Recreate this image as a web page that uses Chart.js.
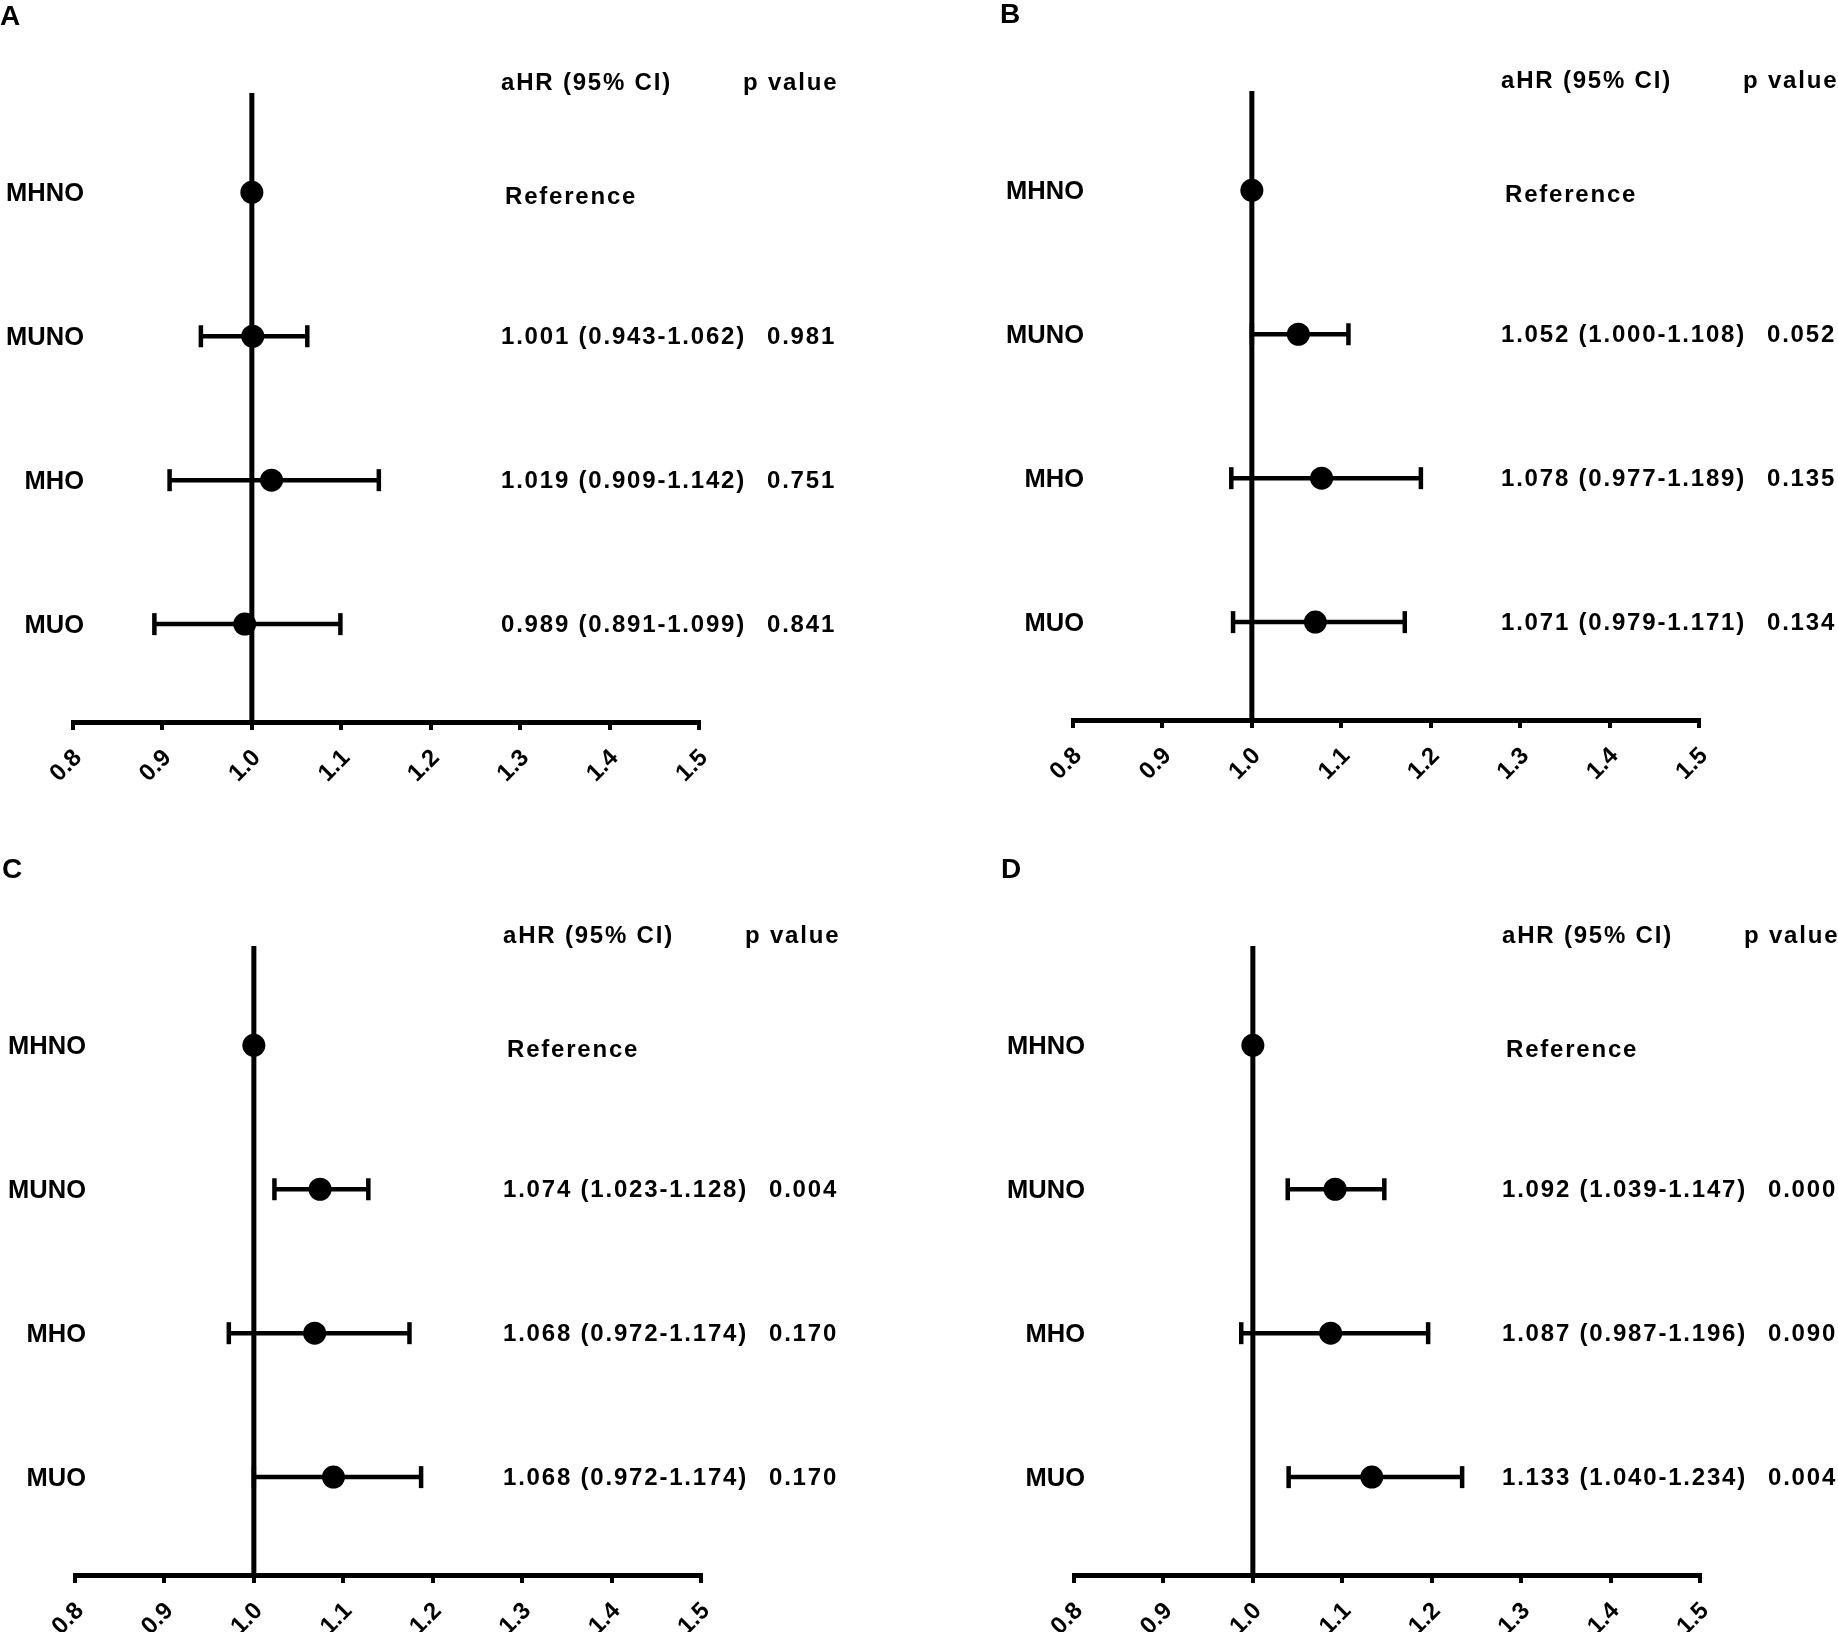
<!DOCTYPE html>
<html>
<head>
<meta charset="utf-8">
<script src="https://cdn.jsdelivr.net/npm/chart.js@4.4.0/dist/chart.umd.min.js"></script>
<style>
html, body { margin: 0; padding: 0; background: #fff; overflow: hidden; width: 1838px; height: 1632px; }
canvas { position: absolute; }
</style>
</head>
<body>
<canvas id="panelA" width="1000" height="853" style="left:0px;top:0px"></canvas>
<canvas id="panelB" width="1000" height="853" style="left:1000px;top:-2px"></canvas>
<canvas id="panelC" width="1000" height="853" style="left:2px;top:853px"></canvas>
<canvas id="panelD" width="1000" height="853" style="left:1001px;top:853px"></canvas>
<script>
const rowLabels = ['MHNO', 'MUNO', 'MHO', 'MUO'];
const xTicks = [0.8, 0.9, 1.0, 1.1, 1.2, 1.3, 1.4, 1.5];
const headers = ['aHR (95% CI)', 'p value'];

// panel A
const hrA = [1.000, 1.001, 1.022, 0.992];
const lowA = [null, 0.943, 0.908, 0.891];
const highA = [null, 1.062, 1.142, 1.099];
const estA = ['Reference', '1.001 (0.943-1.062)', '1.019 (0.909-1.142)', '0.989 (0.891-1.099)'];
const pA = ['', '0.981', '0.751', '0.841'];

// panel B
const hrB = [1.000, 1.052, 1.078, 1.071];
const lowB = [null, 1.000, 0.977, 0.979];
const highB = [null, 1.108, 1.189, 1.171];
const estB = ['Reference', '1.052 (1.000-1.108)', '1.078 (0.977-1.189)', '1.071 (0.979-1.171)'];
const pB = ['', '0.052', '0.135', '0.134'];

// panel C (last row is drawn where the picture puts it, not where its text says)
const hrC = [1.000, 1.074, 1.068, 1.089];
const lowC = [null, 1.023, 0.972, 1.000];
const highC = [null, 1.128, 1.174, 1.187];
const estC = ['Reference', '1.074 (1.023-1.128)', '1.068 (0.972-1.174)', '1.068 (0.972-1.174)'];
const pC = ['', '0.004', '0.170', '0.170'];

// panel D
const hrD = [1.000, 1.092, 1.087, 1.133];
const lowD = [null, 1.039, 0.987, 1.040];
const highD = [null, 1.147, 1.196, 1.234];
const estD = ['Reference', '1.092 (1.039-1.147)', '1.087 (0.987-1.196)', '1.133 (1.040-1.234)'];
const pD = ['', '0.000', '0.090', '0.004'];

const FONT = '"Liberation Sans", Arial, Helvetica, sans-serif';
Chart.defaults.font.family = FONT;
Chart.defaults.font.size = 24;
Chart.defaults.font.weight = 'bold';
Chart.defaults.color = '#000';

const forestText = {
    id: 'forestText',
    afterDraw(chart) {
        const o = chart.options.plugins.forestText;
        const ctx = chart.ctx;
        const y = chart.scales.y;
        ctx.save();
        ctx.fillStyle = '#000';
        ctx.textBaseline = 'alphabetic';

        ctx.font = 'bold 28px ' + FONT;
        ctx.textAlign = 'left';
        ctx.fillText(o.letter, 0, 25);

        ctx.letterSpacing = '1.8px';
        ctx.font = 'bold 24px ' + FONT;
        ctx.fillText(headers[0], 501, 90);
        ctx.fillText(headers[1], 743, 90);

        rowLabels.forEach((lab, i) => {
            const py = y.getPixelForValue(i + 1);
            ctx.letterSpacing = '0px';
            ctx.font = 'bold 25.5px ' + FONT;
            ctx.textAlign = 'right';
            ctx.fillText(lab, 84, py + 9);

            ctx.letterSpacing = '1.8px';
            ctx.font = 'bold 24px ' + FONT;
            ctx.textAlign = 'left';
            if (i === 0) {
                ctx.fillText(o.est[i], 505, py + 12);
            } else {
                ctx.fillText(o.est[i], 501, py + 8);
                ctx.fillText(o.p[i], 767, py + 8);
            }
        });
        ctx.restore();
    }
};

function makePanel(id, letter, hr, low, high, est, p) {
    const datasets = [];
    datasets.push({
        type: 'scatter',
        data: hr.map((v, i) => ({ x: v, y: i + 1 })),
        pointRadius: 11.5,
        pointBackgroundColor: '#000',
        pointBorderColor: '#000',
        pointBorderWidth: 0,
        order: 0
    });
    low.forEach((lo, i) => {
        if (lo === null) return;
        datasets.push({
            type: 'line',
            data: [{ x: lo, y: i + 1 }, { x: high[i], y: i + 1 }],
            borderColor: '#000',
            borderWidth: 4.5,
            pointStyle: 'line',
            pointRotation: 90,
            pointRadius: 11,
            pointBorderWidth: 4.5,
            pointBorderColor: '#000',
            order: 1
        });
    });
    datasets.push({
        type: 'line',
        data: [{ x: 1, y: 0.31 }, { x: 1, y: 4.68 }],
        borderColor: '#000',
        borderWidth: 5,
        pointRadius: 0,
        order: 2
    });

    new Chart(document.getElementById(id), {
        type: 'scatter',
        data: { datasets: datasets },
        plugins: [forestText],
        options: {
            responsive: false,
            animation: false,
            devicePixelRatio: 1,
            layout: { padding: { left: 73, right: 301, top: 93, bottom: 71 } },
            plugins: {
                legend: { display: false },
                tooltip: { enabled: false },
                forestText: { letter: letter, est: est, p: p }
            },
            scales: {
                x: {
                    type: 'linear',
                    min: 0.8,
                    max: 1.5,
                    afterBuildTicks: s => { s.ticks = xTicks.map(v => ({ value: v })); },
                    afterFit: s => { s.height = 60; },
                    border: { display: true, color: '#000', width: 5 },
                    grid: { drawOnChartArea: false, drawTicks: true, tickLength: 8, color: '#000', lineWidth: 4 },
                    ticks: {
                        minRotation: 45,
                        maxRotation: 45,
                        labelOffset: 5,
                        padding: 14,
                        color: '#000',
                        font: { family: FONT, size: 24, weight: 'bold' },
                        callback: v => Number(v).toFixed(1)
                    }
                },
                y: {
                    type: 'linear',
                    reverse: true,
                    min: 0.31,
                    max: 4.68,
                    display: false
                }
            }
        }
    });
}

makePanel('panelA', 'A', hrA, lowA, highA, estA, pA);
makePanel('panelB', 'B', hrB, lowB, highB, estB, pB);
makePanel('panelC', 'C', hrC, lowC, highC, estC, pC);
makePanel('panelD', 'D', hrD, lowD, highD, estD, pD);
</script>
</body>
</html>
